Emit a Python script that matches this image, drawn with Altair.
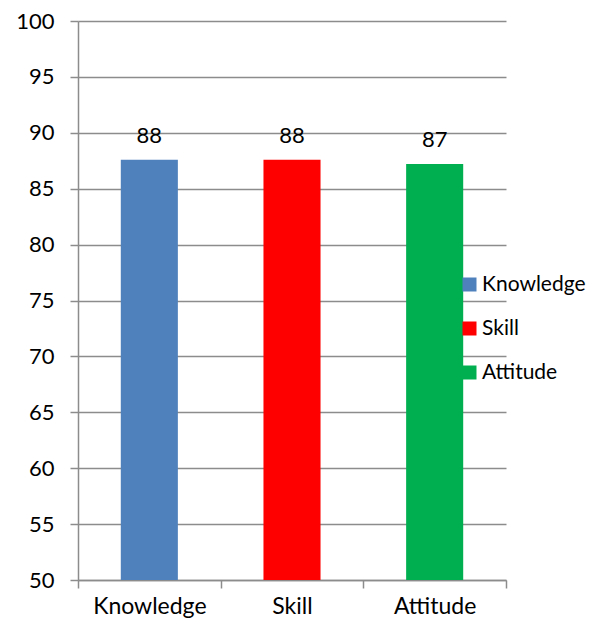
import altair as alt
import pandas as pd

categories = ["Knowledge", "Skill", "Attitude"]
values = [87.6, 87.6, 87.2]
colors = ["#4F81BD", "#FF0000", "#00B050"]
y_ticks = [50, 55, 60, 65, 70, 75, 80, 85, 90, 95, 100]

df = pd.DataFrame({"category": categories, "value": values})

FONT = "Lato"
GRID = "#8C8C8C"

x = alt.X("category:N", sort=categories, title=None,
          scale=alt.Scale(paddingInner=0, paddingOuter=0),
          axis=alt.Axis(labelAngle=0, labelFontSize=23, labelFont=FONT, labelColor="#000000",
                        tickBand="extent", tickSize=8, tickColor=GRID, tickWidth=1.5,
                        domainColor=GRID, domainWidth=1.5, labelPadding=7, grid=False))
y = alt.Y("value:Q", title=None,
          scale=alt.Scale(domain=[50, 100], nice=False, zero=False),
          axis=alt.Axis(values=y_ticks, labelFontSize=22, labelFont=FONT, labelColor="#000000",
                        tickSize=8, tickColor=GRID, tickWidth=1.5, domainColor=GRID, domainWidth=1.5,
                        grid=True, gridColor=GRID, gridWidth=1.5, labelPadding=16))

bars = alt.Chart(df).mark_bar(width=alt.RelativeBandSize(0.4)).encode(
    x=x, y=y, y2=alt.datum(50),
    color=alt.Color("category:N", sort=categories,
                    scale=alt.Scale(domain=categories, range=colors),
                    legend=alt.Legend(title=None, orient="none", legendX=381, legendY=253,
                                      symbolType="square", symbolSize=196, symbolStrokeWidth=0,
                                      labelFontSize=21, labelFont=FONT, labelColor="#000000",
                                      rowPadding=22, symbolOffset=0, labelOffset=2)),
)

labels = alt.Chart(df).mark_text(baseline="alphabetic", dy=-17, fontSize=22, font=FONT, color="#000000").encode(
    x=alt.X("category:N", sort=categories),
    y=alt.Y("value:Q"),
    text=alt.Text("value:Q", format=".0f"),
)

chart = (bars + labels).properties(
    width=428, height=559,
    padding={"left": 70, "top": 13, "right": 87, "bottom": 40},
    autosize=alt.AutoSizeParams(type="none"),
).configure_view(stroke=None)

chart.save("out.html", embed_options={"renderer": "svg", "actions": False})
